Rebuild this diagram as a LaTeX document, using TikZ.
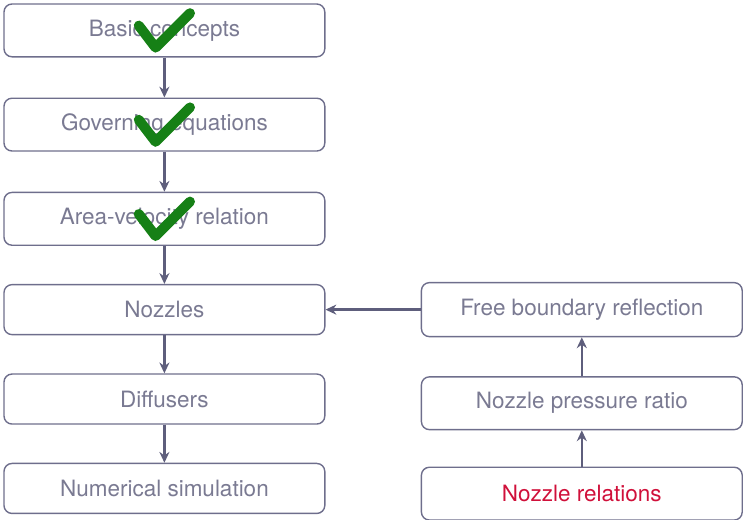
\documentclass[tikz,border=0pt]{standalone}
\usepackage{fontspec}
\setmainfont{TeX Gyre Heros}
\usetikzlibrary{positioning,arrows.meta}
\definecolor{boxline}{HTML}{6E6E8C}
\definecolor{boxtext}{HTML}{7A7A92}
\definecolor{arrowline}{HTML}{5E5E7C}
\definecolor{hotred}{HTML}{D0103A}
\definecolor{tickgreen}{HTML}{168016}
\tikzset{
    topic/.style={draw=boxline,line width=1pt,rounded corners=0.2cm,minimum width=8.02cm,minimum height=1.32cm,text=boxtext,font=\fontsize{16}{19}\selectfont},
    flow/.style={draw=arrowline,line width=1.8pt,-{Stealth[length=0.27cm,width=0.25cm]}},
    tick/.style={draw=tickgreen,line width=0.25cm,line cap=round,line join=round}
}
\begin{document}
\begin{tikzpicture}
        \useasboundingbox (0,0) rectangle (18.625,-12.975);
        %% left column
        \node[topic] (basic) at (4.11,-0.76) {Basic concepts};
        \node[topic,below=1cm of basic] (gov) {Governing equations};
        \node[topic,below=1cm of gov] (area) {Area-velocity relation};
        \node[topic,below=0.95cm of area,minimum height=1.25cm] (noz) {Nozzles};
        \node[topic,below=0.95cm of noz,minimum height=1.25cm] (diff) {Diffusers};
        \node[topic,below=0.95cm of diff,minimum height=1.25cm] (num) {Numerical simulation};
        %% right column
        \node[topic,right=2.38cm of noz,minimum height=1.35cm] (free) {Free boundary reflection};
        \node[topic,below=0.97cm of free] (npr) {Nozzle pressure ratio};
        \node[topic,below=0.905cm of npr,text=hotred] (rel) {Nozzle relations};
        %% arrows
        \draw[flow] (basic) -- (gov);
        \draw[flow] (gov) -- (area);
        \draw[flow] (area) -- (noz);
        \draw[flow] (noz) -- (diff);
        \draw[flow] (diff) -- (num);
        \draw[flow] (free) -- (noz);
        \draw[flow] (rel) -- (npr);
        \draw[flow] (npr) -- (free);
        %% ticks
        \foreach \t in {basic,gov,area}
            \draw[tick] (\t.center) ++(-0.64,0.12) -- ++(0.42,-0.55) -- ++(0.86,0.86);
\end{tikzpicture}
\end{document}
